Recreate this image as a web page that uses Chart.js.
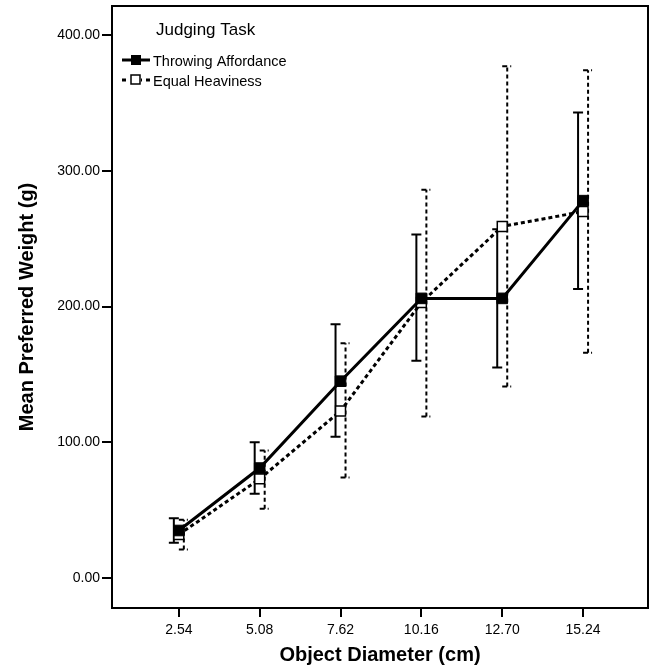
<!DOCTYPE html>
<html>
<head>
<meta charset="utf-8">
<script src="https://cdn.jsdelivr.net/npm/chart.js@4/dist/chart.umd.min.js"></script>
<style>
  html, body { margin: 0; padding: 0; background: #fff; }
  #wrap { width: 651px; height: 668px; }
</style>
</head>
<body>
<div id="wrap"><canvas id="grafico" width="651" height="668"></canvas></div>
<script>
// datos
const diametros = [2.54, 5.08, 7.62, 10.16, 12.70, 15.24];
const yTicks = [0, 100, 200, 300, 400];

const throwMean = [35, 81, 145, 206, 206, 278];
const throwLow = [26, 62, 104, 160, 155, 213];
const throwHigh = [44, 100, 187, 253, 257, 343];

const heavyMean = [32, 73, 123, 203, 259, 270];
const heavyLow = [21, 51, 74, 119, 141, 166];
const heavyHigh = [43, 94, 173, 286, 377, 374];

const legendTitle = 'Judging Task';
const FONT = "'Liberation Sans', Arial, sans-serif";

function puntos(valores) {
  return diametros.map((d, i) => ({ x: d, y: valores[i] }));
}

// barras de error + caja + leyenda
const extras = {
  id: 'extras',
  beforeDatasetsDraw(chart) {
    const ctx = chart.ctx;
    const xs = chart.scales.x;
    const ys = chart.scales.y;
    ctx.save();
    ctx.strokeStyle = '#000';
    ctx.lineWidth = 2;
    // solid bars (Throwing Affordance)
    diametros.forEach((d, i) => {
      const x = xs.getPixelForValue(d) - 5;
      const y1 = ys.getPixelForValue(throwLow[i]);
      const y2 = ys.getPixelForValue(throwHigh[i]);
      ctx.setLineDash([]);
      ctx.beginPath();
      ctx.moveTo(x, y1); ctx.lineTo(x, y2);
      ctx.moveTo(x - 5, y1); ctx.lineTo(x + 5, y1);
      ctx.moveTo(x - 5, y2); ctx.lineTo(x + 5, y2);
      ctx.stroke();
    });
    // dashed bars (Equal Heaviness)
    diametros.forEach((d, i) => {
      const x = xs.getPixelForValue(d) + 5;
      const y1 = ys.getPixelForValue(heavyLow[i]);
      const y2 = ys.getPixelForValue(heavyHigh[i]);
      ctx.setLineDash([4, 3]);
      ctx.beginPath();
      ctx.moveTo(x, y1); ctx.lineTo(x, y2);
      ctx.stroke();
      ctx.setLineDash([5, 3]);
      ctx.beginPath();
      ctx.moveTo(x - 5, y1); ctx.lineTo(x + 4, y1);
      ctx.moveTo(x - 5, y2); ctx.lineTo(x + 4, y2);
      ctx.stroke();
    });
    ctx.restore();
  },
  afterDraw(chart) {
    const ctx = chart.ctx;
    const a = chart.chartArea;
    ctx.save();
    ctx.strokeStyle = '#000';
    ctx.lineWidth = 2;
    ctx.setLineDash([]);
    ctx.strokeRect(a.left, a.top, a.right - a.left, a.bottom - a.top);

    // leyenda
    ctx.fillStyle = '#000';
    ctx.textBaseline = 'alphabetic';
    ctx.font = '17px ' + FONT;
    ctx.fillText(legendTitle, 156, 35);

    const ds = chart.data.datasets;
    ctx.font = '14.5px ' + FONT;
    // Throwing Affordance
    ctx.lineWidth = 3;
    ctx.beginPath();
    ctx.moveTo(122, 60); ctx.lineTo(150, 60);
    ctx.stroke();
    ctx.fillRect(131, 55, 10, 10);
    ctx.fillText(ds[0].label, 153, 66);
    // Equal Heaviness
    ctx.lineWidth = 3;
    ctx.setLineDash([4, 4]);
    ctx.beginPath();
    ctx.moveTo(122, 80); ctx.lineTo(150, 80);
    ctx.stroke();
    ctx.setLineDash([]);
    ctx.fillStyle = '#fff';
    ctx.fillRect(130, 74, 11, 11);
    ctx.lineWidth = 1.5;
    ctx.strokeRect(131, 75, 9, 9);
    ctx.fillStyle = '#000';
    ctx.fillText(ds[1].label, 153, 86);
    ctx.restore();
  }
};

const contexto = document.getElementById('grafico').getContext('2d');

const grafico = new Chart(contexto, {
  type: 'line',
  data: {
    datasets: [
      {
        label: 'Throwing Affordance',
        data: puntos(throwMean),
        borderColor: '#000',
        borderWidth: 3,
        pointStyle: 'rect',
        pointRadius: 7.5,
        pointBackgroundColor: '#000',
        pointBorderColor: '#000',
        pointBorderWidth: 1,
        fill: false,
        tension: 0
      },
      {
        label: 'Equal Heaviness',
        data: puntos(heavyMean),
        borderColor: '#000',
        borderWidth: 3,
        borderDash: [4, 3],
        pointStyle: 'rect',
        pointRadius: 7,
        pointBackgroundColor: '#fff',
        pointBorderColor: '#000',
        pointBorderWidth: 1.5,
        fill: false,
        tension: 0
      }
    ]
  },
  options: {
    responsive: false,
    animation: false,
    events: [],
    layout: { autoPadding: false, padding: { top: 6, right: 3, left: 0, bottom: 0 } },
    plugins: {
      legend: { display: false },
      tooltip: { enabled: false }
    },
    scales: {
      x: {
        type: 'linear',
        min: 0.44,
        max: 17.28,
        afterBuildTicks: (scale) => { scale.ticks = diametros.map(v => ({ value: v })); },
        afterFit: (scale) => {
          scale.height = 60;
          scale.paddingLeft = 0;
          scale.paddingRight = 0;
        },
        border: { display: false },
        grid: {
          drawOnChartArea: false,
          drawTicks: true,
          tickLength: 9,
          color: '#000',
          lineWidth: 2
        },
        ticks: {
          color: '#000',
          padding: 5,
          maxRotation: 0,
          font: { family: FONT, size: 14 },
          callback: (v) => Number(v).toFixed(2)
        },
        title: {
          display: true,
          text: 'Object Diameter (cm)',
          color: '#000',
          padding: { top: 0, bottom: 1 },
          font: { family: FONT, size: 20, weight: 'bold' }
        }
      },
      y: {
        min: -22.1,
        max: 421.4,
        afterBuildTicks: (scale) => { scale.ticks = yTicks.map(v => ({ value: v })); },
        afterFit: (scale) => {
          scale.width = 112;
          scale.paddingTop = 0;
          scale.paddingBottom = 0;
        },
        border: { display: false },
        grid: {
          drawOnChartArea: false,
          drawTicks: true,
          tickLength: 10,
          color: '#000',
          lineWidth: 2
        },
        ticks: {
          color: '#000',
          padding: 2,
          font: { family: FONT, size: 14 },
          callback: (v) => Number(v).toFixed(2)
        },
        title: {
          display: true,
          text: 'Mean Preferred Weight (g)',
          color: '#000',
          padding: { top: 15, bottom: 0 },
          font: { family: FONT, size: 20, weight: 'bold' }
        }
      }
    }
  },
  plugins: [extras]
});
</script>
</body>
</html>
